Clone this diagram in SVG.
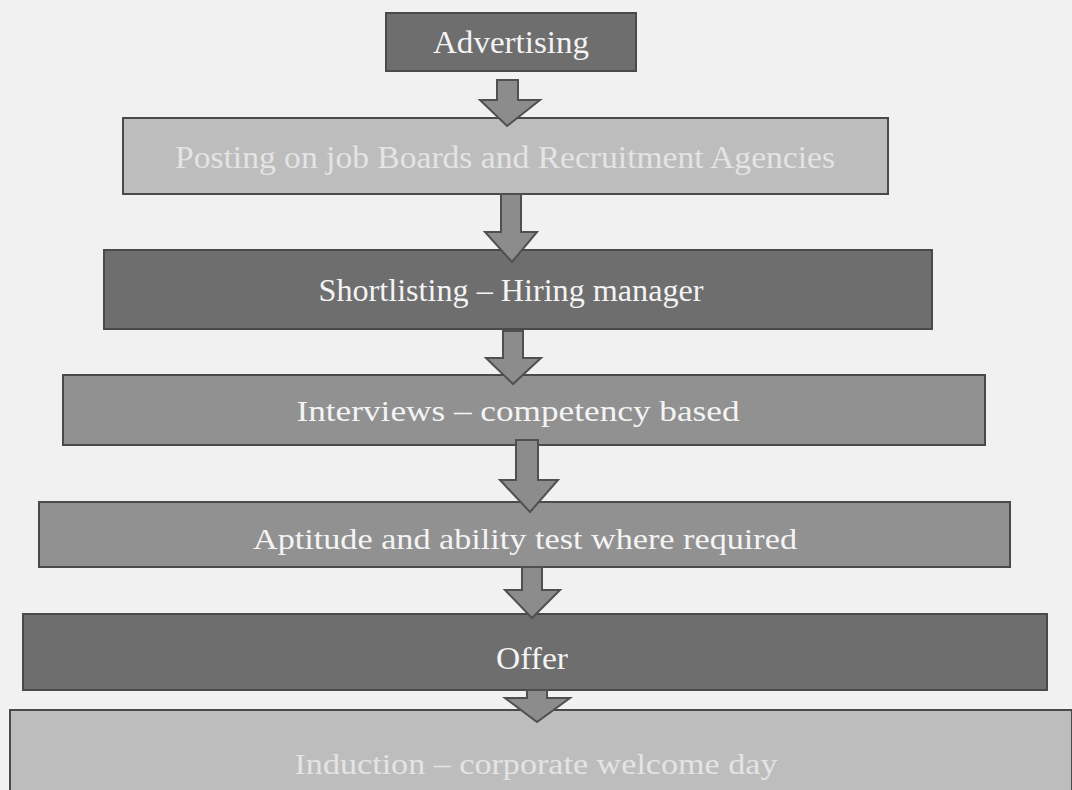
<svg xmlns="http://www.w3.org/2000/svg" width="1072" height="790" viewBox="0 0 1072 790">
<style>
.box{stroke:#4a4a4a;stroke-width:2}
.dark{fill:#6e6e6e}
.mid{fill:#919191}
.light{fill:#bdbdbd}
.lbl{font-family:"Liberation Serif","Times New Roman",serif;text-anchor:middle;fill:#f4f4f4}
.lbl2{fill:#e4e4e4}
.arr{fill:#8c8c8c;stroke:#505050;stroke-width:2;stroke-linejoin:miter}
</style>
<rect width="1072" height="790" fill="#f1f1f1"/>
<g id="n1"><rect class="box dark" x="386" y="13" width="250" height="58"/><text class="lbl" x="511" y="53" font-size="31" textLength="156" lengthAdjust="spacingAndGlyphs">Advertising</text></g>
<g id="n2"><rect class="box light" x="123" y="118" width="765" height="76"/><text class="lbl lbl2" x="505" y="168" font-size="31" textLength="660" lengthAdjust="spacingAndGlyphs">Posting on job Boards and Recruitment Agencies</text></g>
<g id="n3"><rect class="box dark" x="104" y="250" width="828" height="79"/><text class="lbl" x="511" y="301" font-size="31" textLength="385" lengthAdjust="spacingAndGlyphs">Shortlisting – Hiring manager</text></g>
<g id="n4"><rect class="box mid" x="63" y="375" width="922" height="70"/><text class="lbl" x="518" y="421" font-size="30" textLength="443" lengthAdjust="spacingAndGlyphs">Interviews – competency based</text></g>
<g id="n5"><rect class="box mid" x="39" y="502" width="971" height="65"/><text class="lbl" x="525" y="549" font-size="30" textLength="544" lengthAdjust="spacingAndGlyphs">Aptitude and ability test where required</text></g>
<g id="n6"><rect class="box dark" x="23" y="614" width="1024" height="76"/><text class="lbl" x="532" y="669" font-size="31" textLength="72" lengthAdjust="spacingAndGlyphs">Offer</text></g>
<g id="n7"><rect class="box light" x="10" y="710" width="1062" height="82" stroke="none"/><text class="lbl lbl2" x="536" y="774" font-size="30" textLength="483" lengthAdjust="spacingAndGlyphs">Induction – corporate welcome day</text></g>
<g id="connectors">
<polygon class="arr" points="497,80 518,80 518,100 540,100 507,126 480,100 497,100"/>
<polygon class="arr" points="501,194 521,194 521,232 537,232 512,262 485,232 501,232"/>
<polygon class="arr" points="503,331 523,331 523,358 541,358 513,384 486,358 503,358"/>
<polygon class="arr" points="516,440 538,440 538,480 558,480 530,512 500,480 516,480"/>
<polygon class="arr" points="522,567 542,567 542,590 560,590 532,618 505,590 522,590"/>
<polygon class="arr" points="527,690 547,690 547,698 570,698 537,722 505,698 527,698"/>
</g>
</svg>
